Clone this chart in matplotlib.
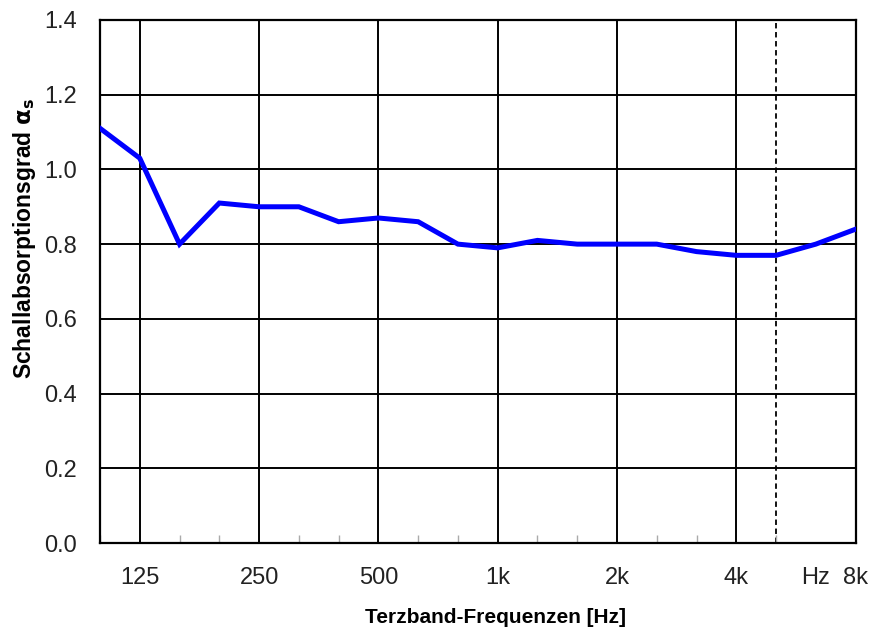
import numpy as np
import matplotlib.pyplot as plt

plt.rcParams['font.family'] = ['Liberation Sans', 'DejaVu Sans']

# third-octave band centres (Hz) and measured absorption coefficients
bands = [100, 125, 160, 200, 250, 315, 400, 500, 630, 800,
         1000, 1250, 1600, 2000, 2500, 3150, 4000, 5000, 6300, 8000]
alpha_s = [1.11, 1.03, 0.80, 0.91, 0.90, 0.90, 0.86, 0.87, 0.86, 0.80,
           0.79, 0.81, 0.80, 0.80, 0.80, 0.78, 0.77, 0.77, 0.80, 0.84]

label_bands = [125, 250, 500, 1000, 2000, 4000, 6300, 8000]
label_texts = ['125', '250', '500', '1k', '2k', '4k', 'Hz', '8k']
grid_bands = [125, 250, 500, 1000, 2000, 4000]
dashed_band = 5000
y_ticks = [0.0, 0.2, 0.4, 0.6, 0.8, 1.0, 1.2, 1.4]

idx = np.arange(len(bands))
pos = {b: i for i, b in enumerate(bands)}

fig = plt.figure(figsize=(8.75, 6.32), dpi=100)
ax = fig.add_axes([0.1143, 0.1408, 0.8635, 0.8276])

for t in y_ticks[1:-1]:
    ax.axhline(t, color='black', lw=1.4, zorder=1)
for b in grid_bands:
    ax.axvline(pos[b], color='black', lw=1.4, zorder=1)
ax.axvline(pos[dashed_band], color='black', lw=1.3, ls=(0, (3, 2)), zorder=1)

ax.plot(idx, alpha_s, color='#0000ff', lw=3.6, solid_joinstyle='miter', zorder=3)

ax.set_xlim(0, len(bands) - 1)
ax.set_ylim(0, 1.4)
ax.set_yticks(y_ticks)
ax.set_yticklabels([f'{t:.1f}' for t in y_ticks])
ax.set_xticks([pos[b] for b in label_bands])
ax.set_xticklabels(label_texts)
ax.set_xticks([pos[b] for b in bands if b not in label_bands or b == 6300], minor=True)

ax.tick_params(axis='y', length=0, pad=16.5, labelsize=17, labelcolor='#222222')
ax.tick_params(axis='x', which='major', length=0, pad=17.5, labelsize=17, labelcolor='#222222')
ax.tick_params(axis='x', which='minor', direction='in', length=6, width=1, color='#aaaaaa')

for s in ax.spines.values():
    s.set_color('black')
    s.set_linewidth(1.6)

ax.set_xlabel('Terzband-Frequenzen [Hz]', fontsize=15, fontweight='bold', va='center')
ax.xaxis.set_label_coords(0.523, -0.143)
ax.set_ylabel(r'Schallabsorptionsgrad $\mathbf{\alpha_s}$', fontsize=16.5, fontweight='bold', va='center')
ax.yaxis.set_label_coords(-0.0993, 0.583)

fig.savefig('out.png', dpi=100)
